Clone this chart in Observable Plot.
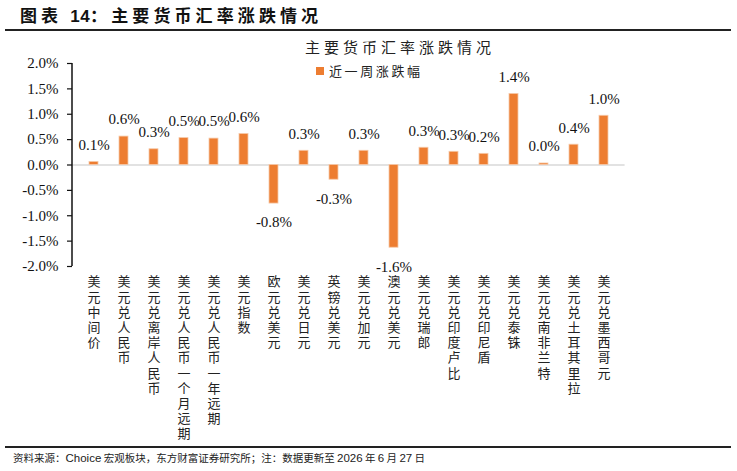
<!DOCTYPE html>
<html>
<head>
<meta charset="utf-8">
<script src="https://cdn.jsdelivr.net/npm/d3@7"></script>
<script src="https://cdn.jsdelivr.net/npm/@observablehq/plot@0.6"></script>
<style>
  html, body { margin: 0; padding: 0; background: #fff; }
  #wrap { position: relative; width: 737px; height: 471px; overflow: hidden; }
  #title { position: absolute; left: 20px; top: 3px; font-family: "Noto Sans CJK SC", sans-serif; font-weight: bold; font-size: 17px; line-height: 24px; letter-spacing: 4.1px; color: #111; white-space: nowrap; }
  #title .num { font-family: "Liberation Sans", Arial, sans-serif; letter-spacing: 0.5px; }
  #topline { position: absolute; left: 5px; top: 29px; width: 726px; height: 2px; background: #222; }
  #ctitle { position: absolute; left: 305px; top: 36px; font-family: "Noto Sans CJK SC", serif; font-size: 15px; letter-spacing: 4px; color: #222; white-space: nowrap; }
  #legend { position: absolute; left: 316px; top: 61px; font-family: "Noto Sans CJK SC", serif; font-size: 13px; letter-spacing: 2.6px; color: #222; white-space: nowrap; display: flex; align-items: center; }
  #legend .sw { display: inline-block; width: 8px; height: 8px; background: #ED7D31; margin-right: 5px; }
  #botline { position: absolute; left: 5px; top: 446px; width: 726px; height: 1.5px; background: #222; }
  #source { position: absolute; left: 13px; top: 450px; font-family: "Noto Sans CJK SC", sans-serif; font-size: 10.5px; color: #222; white-space: nowrap; }
  #source .lat { font-family: "Liberation Sans", Arial, sans-serif; font-size: 11.5px; }
  #chart { position: absolute; left: 0; top: 0; }
</style>
</head>
<body>
<div id="wrap">
  <div id="chart"></div>
  <div id="title">图表 <span class="num">14</span>：主要货币汇率涨跌情况</div>
  <div id="topline"></div>
  <div id="ctitle">主要货币汇率涨跌情况</div>
  <div id="legend"><span class="sw"></span>近一周涨跌幅</div>
  <div id="botline"></div>
  <div id="source">资料来源：<span class="lat">Choice</span> 宏观板块，东方财富证券研究所；注：数据更新至 <span class="lat">2026</span> 年 <span class="lat">6</span> 月 <span class="lat">27</span> 日</div>
</div>
<script>
const categories = [
  "美元中间价", "美元兑人民币", "美元兑离岸人民币", "美元兑人民币1个月远期", "美元兑人民币1年远期",
  "美元指数", "欧元兑美元", "美元兑日元", "英镑兑美元", "美元兑加元", "澳元兑美元",
  "美元兑瑞郎", "美元兑印度卢比", "美元兑印尼盾", "美元兑泰铢", "美元兑南非兰特",
  "美元兑土耳其里拉", "美元兑墨西哥元"
];
// weekly change, in percent
const weeklyChange = [0.06, 0.56, 0.31, 0.53, 0.52, 0.61, -0.76, 0.28, -0.29, 0.28, -1.63,
  0.34, 0.26, 0.22, 1.40, 0.03, 0.40, 0.97];
const yTicks = [-2.0, -1.5, -1.0, -0.5, 0.0, 0.5, 1.0, 1.5, 2.0];

const data = categories.map((c, i) => ({cat: c, v: weeklyChange[i] / 100}));
const fmt = d => (d * 100).toFixed(1) + "%";
const vertical = s => Array.from(s.replace(/1/g, "一")).join("\n");

const serif = "'Liberation Serif', 'Times New Roman', serif";
const cjk = "'Noto Sans CJK SC', sans-serif";

const chart = Plot.plot({
  width: 737,
  height: 471,
  marginTop: 63,
  marginBottom: 205,
  marginLeft: 72,
  marginRight: 112.4,
  style: {background: "transparent", color: "#111"},
  x: {domain: categories, paddingInner: 0.69, paddingOuter: 0.345, axis: null},
  y: {domain: [-0.02, 0.02], axis: null},
  marks: [
    Plot.ruleY([0], {stroke: "#d9d9d9", strokeWidth: 1.5}),
    Plot.barY(data, {x: "cat", y: "v", fill: "#ED7D31", stroke: "#f6c9a8", strokeWidth: 0.8}),
    Plot.axisY({ticks: yTicks.map(t => t / 100), tickFormat: fmt, tickSize: 5, tickPadding: 9, label: null,
      fontSize: 15, fontFamily: serif, stroke: "#111", strokeWidth: 1.2}),
    Plot.text(data.filter(d => d.v >= 0), {x: "cat", y: "v", text: d => fmt(d.v), dy: -17,
      fontSize: 15, fontFamily: serif, fill: "#111"}),
    Plot.text(data.filter(d => d.v < 0), {x: "cat", y: "v", text: d => fmt(d.v), dy: 19,
      fontSize: 15, fontFamily: serif, fill: "#111"}),
    Plot.text(data, {x: "cat", frameAnchor: "bottom", text: d => vertical(d.cat), lineAnchor: "top",
      dy: 9, lineHeight: 1.17, fontSize: 13, fontFamily: cjk, fill: "#222"})
  ]
});

// y axis line at the left edge of the x range
const xs = chart.scale("x"), ys = chart.scale("y");
const x0 = xs.range[0];
d3.select(chart).append("line")
  .attr("x1", x0).attr("x2", x0)
  .attr("y1", ys.apply(0.02)).attr("y2", ys.apply(-0.02))
  .attr("stroke", "#111").attr("stroke-width", 1.5);

document.getElementById("chart").appendChild(chart);
</script>
</body>
</html>
